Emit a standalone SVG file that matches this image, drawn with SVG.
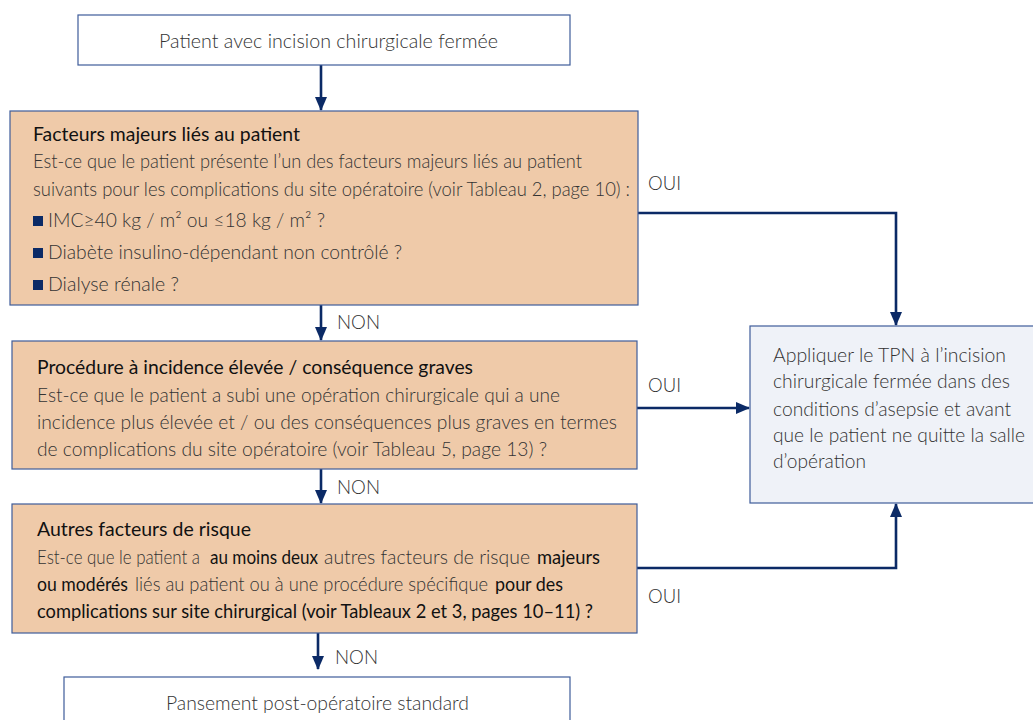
<svg xmlns="http://www.w3.org/2000/svg" width="1033" height="720" viewBox="0 0 1033 720">
<style>
text{font-family:Lato,"Open Sans","Liberation Sans",sans-serif;font-size:19px;font-weight:300;fill:#333333}
.t{font-weight:400;fill:#111111}
.b{font-weight:400;fill:#111111}
.box{stroke:#3e5c9a;stroke-width:1.2}
.w{fill:#ffffff}
.o{fill:#efcaa9}
.g{fill:#eff2f8}
.c{fill:none;stroke:#0b2a66;stroke-width:2.6}
.sq{fill:#0b2a66}
</style>
<defs>
<marker id="ah" markerWidth="14" markerHeight="12" refX="13" refY="6" orient="auto" markerUnits="userSpaceOnUse">
<path d="M0,0 L14,6 L0,12 Z" fill="#0b2a66"/>
</marker>
</defs>
<g id="connectors">
<line class="c" x1="321" y1="65" x2="321" y2="110" marker-end="url(#ah)"/>
<line class="c" x1="321" y1="305" x2="321" y2="340" marker-end="url(#ah)"/>
<line class="c" x1="321" y1="469" x2="321" y2="503" marker-end="url(#ah)"/>
<line class="c" x1="318" y1="633" x2="318" y2="669" marker-end="url(#ah)"/>
<polyline class="c" points="638,213 896,213 896,325" marker-end="url(#ah)"/>
<line class="c" x1="637" y1="408" x2="749" y2="408" marker-end="url(#ah)"/>
<polyline class="c" points="637,568 896,568 896,504" marker-end="url(#ah)"/>
<text x="648" y="190" textLength="33" lengthAdjust="spacingAndGlyphs">OUI</text>
<text x="648" y="392" textLength="33" lengthAdjust="spacingAndGlyphs">OUI</text>
<text x="648" y="603" textLength="33" lengthAdjust="spacingAndGlyphs">OUI</text>
<text x="337" y="329" textLength="43" lengthAdjust="spacingAndGlyphs">NON</text>
<text x="337" y="494" textLength="43" lengthAdjust="spacingAndGlyphs">NON</text>
<text x="335" y="664" textLength="43" lengthAdjust="spacingAndGlyphs">NON</text>
</g>
<g id="start">
<rect class="box w" x="78" y="15" width="492" height="50"/>
<text x="159" y="48" textLength="339" lengthAdjust="spacingAndGlyphs">Patient avec incision chirurgicale fermée</text>
</g>
<g id="q1">
<rect class="box o" x="10" y="111" width="628" height="194"/>
<text class="t" x="33" y="141" textLength="267" lengthAdjust="spacingAndGlyphs">Facteurs majeurs liés au patient</text>
<text x="33" y="168" textLength="549" lengthAdjust="spacingAndGlyphs">Est-ce que le patient présente l’un des facteurs majeurs liés au patient</text>
<text x="33" y="196" textLength="597" lengthAdjust="spacingAndGlyphs">suivants pour les complications du site opératoire (voir Tableau 2, page 10) :</text>
<rect class="sq" x="33" y="216" width="10" height="10"/>
<text x="48" y="227" textLength="277" lengthAdjust="spacingAndGlyphs">IMC≥40 kg / m² ou ≤18 kg / m² ?</text>
<rect class="sq" x="33" y="248" width="10" height="10"/>
<text x="48" y="259" textLength="354" lengthAdjust="spacingAndGlyphs">Diabète insulino-dépendant non contrôlé ?</text>
<rect class="sq" x="33" y="280" width="10" height="10"/>
<text x="48" y="291" textLength="131" lengthAdjust="spacingAndGlyphs">Dialyse rénale ?</text>
</g>
<g id="q2">
<rect class="box o" x="12" y="341" width="625" height="128"/>
<text class="t" x="37" y="374" textLength="436" lengthAdjust="spacingAndGlyphs">Procédure à incidence élevée / conséquence graves</text>
<text x="37" y="402" textLength="523" lengthAdjust="spacingAndGlyphs">Est-ce que le patient a subi une opération chirurgicale qui a une</text>
<text x="37" y="429" textLength="580" lengthAdjust="spacingAndGlyphs">incidence plus élevée et / ou des conséquences plus graves en termes</text>
<text x="37" y="456" textLength="510" lengthAdjust="spacingAndGlyphs">de complications du site opératoire (voir Tableau 5, page 13) ?</text>
</g>
<g id="q3">
<rect class="box o" x="12" y="504" width="625" height="129"/>
<text class="t" x="37" y="536" textLength="214" lengthAdjust="spacingAndGlyphs">Autres facteurs de risque</text>
<text x="37" y="564" textLength="163" lengthAdjust="spacingAndGlyphs">Est-ce que le patient a</text>
<text class="b" x="210" y="564" textLength="108" lengthAdjust="spacingAndGlyphs">au moins deux</text>
<text x="324" y="564" textLength="206" lengthAdjust="spacingAndGlyphs">autres facteurs de risque</text>
<text class="b" x="537" y="564" textLength="63" lengthAdjust="spacingAndGlyphs">majeurs</text>
<text class="b" x="37" y="591" textLength="91" lengthAdjust="spacingAndGlyphs">ou modérés</text>
<text x="135" y="591" textLength="353" lengthAdjust="spacingAndGlyphs">liés au patient ou à une procédure spécifique</text>
<text class="b" x="495" y="591" textLength="68" lengthAdjust="spacingAndGlyphs">pour des</text>
<text x="37" y="618" class="b" textLength="556" lengthAdjust="spacingAndGlyphs">complications sur site chirurgical (voir Tableaux 2 et 3, pages 10–11) ?</text>
</g>
<g id="apply">
<rect class="box g" x="750" y="326" width="290" height="177"/>
<text x="773" y="362" textLength="233" lengthAdjust="spacingAndGlyphs">Appliquer le TPN à l’incision</text>
<text x="773" y="388" textLength="237" lengthAdjust="spacingAndGlyphs">chirurgicale fermée dans des</text>
<text x="773" y="416" textLength="238" lengthAdjust="spacingAndGlyphs">conditions d’asepsie et avant</text>
<text x="773" y="442" textLength="252" lengthAdjust="spacingAndGlyphs">que le patient ne quitte la salle</text>
<text x="773" y="468" textLength="93" lengthAdjust="spacingAndGlyphs">d’opération</text>
</g>
<g id="standard">
<rect class="box w" x="64" y="677" width="506" height="60"/>
<text x="166" y="710" textLength="303" lengthAdjust="spacingAndGlyphs">Pansement post-opératoire standard</text>
</g>
</svg>
